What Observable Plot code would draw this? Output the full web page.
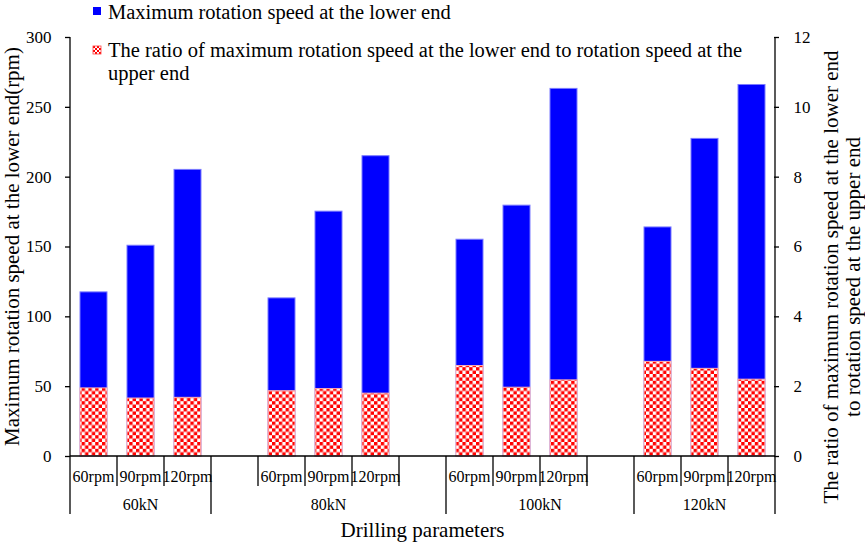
<!DOCTYPE html>
<html><head><meta charset="utf-8">
<script src="https://cdn.jsdelivr.net/npm/d3@7"></script>
<script src="https://cdn.jsdelivr.net/npm/@observablehq/plot@0.6"></script>
<style>
body{margin:0;background:#fff}
#chart svg{font-family:"Liberation Serif","Times New Roman",serif}
</style>
</head><body><div id="chart"></div>
<script>
// ---- data ----
const groups = ["60kN", "80kN", "100kN", "120kN"];
const slotGroup = ["60kN","60kN","60kN","80kN","80kN","80kN","80kN","80kN","100kN","100kN","100kN","100kN","120kN","120kN","120kN"];
const slotLabel = ["60rpm","90rpm","120rpm","","60rpm","90rpm","120rpm","","60rpm","90rpm","120rpm","","60rpm","90rpm","120rpm"];
const maxSpeed = [117.5,150.9,205.2,null,113.2,175.3,215.0,null,155.2,179.6,263.2,null,164.0,227.4,266.0];
const speedRatio = [1.95,1.66,1.68,null,1.87,1.93,1.80,null,2.59,1.97,2.18,null,2.71,2.51,2.20];
const leftTicks = [0,50,100,150,200,250,300];
const rightTicks = [0,2,4,6,8,10,12];
const leftTitle = "Maximum rotation speed at the lower end(rpm)";
const rightTitle = ["The ratio of maximum rotation speed at the lower end", "to rotation speed at the upper end"];
const xTitle = "Drilling parameters";
const legend1 = "Maximum rotation speed at the lower end";
const legend2 = ["The ratio of maximum rotation speed at the lower end to rotation speed at the", "upper end"];

const ratioMax = 12, speedMax = 300, k = speedMax / ratioMax;
const keys = slotLabel.map((l, i) => `${slotGroup[i]}#${i}`);
const table = keys.map((key, i) => ({key, group: slotGroup[i], label: slotLabel[i], speed: maxSpeed[i], ratio: speedRatio[i]}));

const W = 865, H = 542, mL = 65, mR = 86, mT = 37, mB = 86;
const innerW = W - mL - mR;
const FONT = '"Liberation Serif","Times New Roman",serif';

const plot = Plot.plot({
  width: W, height: H,
  marginLeft: mL, marginRight: mR, marginTop: mT, marginBottom: mB,
  style: {fontFamily: FONT, fontSize: "17px", background: "white", color: "black", overflow: "visible"},
  x: {domain: keys, paddingInner: 0.43, paddingOuter: 0.215, axis: null},
  y: {domain: [0, speedMax], axis: null, label: null},
  marks: [
    Plot.barY(table.filter(d => d.speed != null), {x: "key", y: "speed", fill: "#0000ff", stroke: "#7a7aff", strokeWidth: 1}),
    Plot.barY(table.filter(d => d.ratio != null), {x: "key", y: d => d.ratio * k, fill: "url(#checker)", stroke: "#ffb0b0", strokeWidth: 1}),
    Plot.axisY(leftTicks, {anchor: "left", label: null, tickSize: 0, tickPadding: 14, fontSize: 17}),
    Plot.axisY(rightTicks.map(v => v * k), {anchor: "right", label: null, tickSize: 0, tickPadding: 14, fontSize: 17, tickFormat: v => String(v / k)}),
    Plot.tickY(leftTicks, {y: d => d, insetRight: innerW - 5, stroke: "black", strokeWidth: 1.3}),
    Plot.tickY(leftTicks, {y: d => d, insetLeft: innerW - 5, stroke: "black", strokeWidth: 1.3})
  ]
});

document.getElementById("chart").appendChild(plot);
const svg = d3.select(plot);

// checker pattern
const defs = svg.insert("defs", ":first-child");
const s = 3.4;
const pat = defs.append("pattern").attr("id", "checker").attr("patternUnits", "userSpaceOnUse")
  .attr("width", 2 * s).attr("height", 2 * s);
pat.append("rect").attr("width", 2 * s).attr("height", 2 * s).attr("fill", "white");
pat.append("rect").attr("x", 0).attr("y", 0).attr("width", s).attr("height", s).attr("fill", "#ff0000");
pat.append("rect").attr("x", s).attr("y", s).attr("width", s).attr("height", s).attr("fill", "#ff0000");

const xs = plot.scale("x"), ys = plot.scale("y");
const step = xs.step, bw = xs.bandwidth;
const y0 = ys.apply(0), yTop = ys.apply(speedMax);
const xLeft = xs.apply(keys[0]) - (step - bw) / 2;
const xRight = xs.apply(keys[keys.length - 1]) + bw + (step - bw) / 2;
const shortY = y0 + 30, longY = y0 + 58;

const g = svg.append("g").attr("stroke", "black").attr("stroke-width", 1.3);
// axis lines
g.append("line").attr("x1", xLeft).attr("x2", xLeft).attr("y1", yTop).attr("y2", longY);
g.append("line").attr("x1", xRight).attr("x2", xRight).attr("y1", yTop).attr("y2", longY);
g.append("line").attr("x1", xLeft).attr("x2", xRight).attr("y1", y0).attr("y2", y0);
// category ticks
keys.forEach((key, i) => {
  if (i === 0) return;
  const bx = xs.apply(key) - (step - bw) / 2;
  const isGroupEdge = slotGroup[i] !== slotGroup[i - 1];
  g.append("line").attr("x1", bx).attr("x2", bx).attr("y1", y0).attr("y2", isGroupEdge ? longY : shortY);
});

const tg = svg.append("g").attr("fill", "black").attr("font-family", FONT).attr("text-anchor", "middle");
// rpm labels
table.forEach(d => {
  if (!d.label) return;
  tg.append("text").attr("x", xs.apply(d.key) + bw / 2).attr("y", y0 + 26)
    .attr("font-size", 16).text(d.label);
});
// group labels
groups.forEach(gname => {
  const ks = table.filter(d => d.group === gname).map(d => d.key);
  const a = xs.apply(ks[0]) - (step - bw) / 2;
  const b = xs.apply(ks[ks.length - 1]) + bw + (step - bw) / 2;
  tg.append("text").attr("x", (a + b) / 2).attr("y", y0 + 54)
    .attr("font-size", 16).text(gname);
});
// x title
tg.append("text").attr("x", (xLeft + xRight) / 2).attr("y", 537)
  .attr("font-size", 21).text(xTitle);
// left title
tg.append("text").attr("transform", `translate(19,${(y0 + yTop) / 2}) rotate(-90)`)
  .attr("font-size", 21).text(leftTitle);
// right title
tg.append("text").attr("transform", `translate(838,277) rotate(-90)`)
  .attr("font-size", 21).text(rightTitle[0]);
tg.append("text").attr("transform", `translate(860,277) rotate(-90)`)
  .attr("font-size", 21).text(rightTitle[1]);

// legend
const lg = svg.append("g").attr("font-family", FONT).attr("text-anchor", "start").attr("fill", "black");
lg.append("rect").attr("x", 93).attr("y", 7).attr("width", 8).attr("height", 8).attr("fill", "#0000ff");
lg.append("text").attr("x", 108).attr("y", 19).attr("font-size", 20.5).text(legend1);
const p2 = defs.append("pattern").attr("id", "checkerSmall").attr("patternUnits", "userSpaceOnUse")
  .attr("x", 93).attr("y", 46).attr("width", 4).attr("height", 4);
p2.append("rect").attr("width", 4).attr("height", 4).attr("fill", "white");
p2.append("rect").attr("width", 2).attr("height", 2).attr("fill", "#ff0000");
p2.append("rect").attr("x", 2).attr("y", 2).attr("width", 2).attr("height", 2).attr("fill", "#ff0000");
lg.append("rect").attr("x", 93).attr("y", 46).attr("width", 8).attr("height", 8).attr("fill", "url(#checkerSmall)").attr("stroke", "#ff4040").attr("stroke-width", 0.8);
lg.append("text").attr("x", 108).attr("y", 57).attr("font-size", 20.5).text(legend2[0]);
lg.append("text").attr("x", 108).attr("y", 80).attr("font-size", 20.5).text(legend2[1]);
</script>
</body></html>
